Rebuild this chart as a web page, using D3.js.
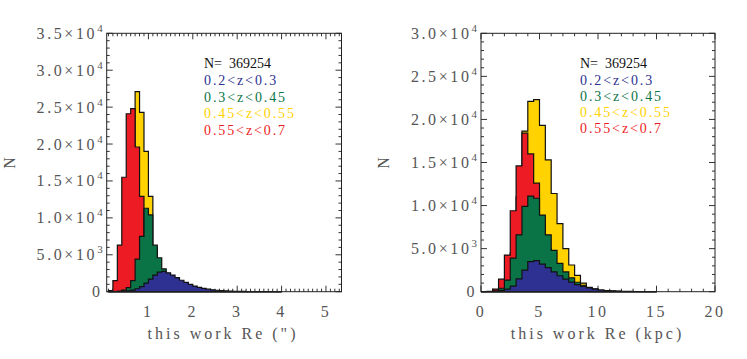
<!DOCTYPE html>
<html>
<head>
<meta charset="utf-8">
<script src="https://cdn.jsdelivr.net/npm/d3@7/dist/d3.min.js"></script>
<style>
  body { margin: 0; background: #fff; }
  svg { display: block; }
</style>
</head>
<body>
<svg id="chart" width="747" height="359"></svg>
<script>
(function () {
  'use strict';

  // ---- data ----
  // left panel: Re in arcsec, bin edges (n+1)
  const arcsecEdges = [0.1, 0.2, 0.3, 0.4, 0.5, 0.6, 0.7, 0.8, 0.9, 1.0, 1.1, 1.2, 1.3, 1.4, 1.5, 1.6, 1.7, 1.8, 1.9, 2.0,
    2.1, 2.2, 2.3, 2.4, 2.5, 2.6, 2.7, 2.8, 2.9, 3.0, 3.1, 3.2, 3.3, 3.4, 3.5, 3.6, 3.7, 3.8, 3.9, 4.0];
  const arcsecBlue = [0, 10, 30, 60, 120, 220, 400, 700, 1150, 1700, 2250, 2650, 2750, 2550, 2250, 1900, 1550, 1250, 980, 760,
    590, 450, 340, 260, 195, 145, 110, 80, 60, 45, 34, 25, 18, 13, 9, 6, 4, 3, 2];
  const arcsecGreen = [0, 30, 80, 200, 550, 1500, 4400, 7500, 11300, 10400, 6300, 4600, 3100, 2000, 1400, 900, 600, 400, 250, 160,
    100, 60, 40, 25, 15, 10, 5, 0, 0, 0, 0, 0, 0, 0, 0, 0, 0, 0, 0];
  const arcsecYellow = [0, 100, 600, 3000, 9000, 17500, 27100, 24300, 19000, 12900, 6000, 2800, 1300, 600, 300, 150, 80, 40, 20, 10,
    5, 0, 0, 0, 0, 0, 0, 0, 0, 0, 0, 0, 0, 0, 0, 0, 0, 0, 0];
  const arcsecRed = [150, 1500, 6300, 15500, 24100, 24800, 19600, 12900, 7000, 3600, 1700, 800, 400, 200, 100, 50, 30, 20, 10, 5,
    0, 0, 0, 0, 0, 0, 0, 0, 0, 0, 0, 0, 0, 0, 0, 0, 0, 0, 0];

  // right panel: Re in kpc, bin edges (n+1)
  const kpcEdges = [0.0, 0.5, 1.0, 1.5, 2.0, 2.5, 3.0, 3.5, 4.0, 4.5, 5.0, 5.5, 6.0, 6.5, 7.0, 7.5, 8.0, 8.5, 9.0, 9.5,
    10.0, 10.5, 11.0, 11.5, 12.0, 12.5, 13.0, 13.5, 14.0, 14.5, 15.0];
  const kpcBlue = [0, 10, 60, 150, 300, 650, 1500, 2500, 3500, 3600, 3200, 2800, 2300, 1850, 1450, 1120, 830, 610, 430, 300,
    200, 140, 95, 65, 45, 30, 20, 13, 8, 5];
  const kpcGreen = [0, 10, 80, 400, 1350, 3900, 6600, 9900, 11100, 10850, 8900, 6600, 4800, 3300, 2300, 1600, 1100, 750, 500, 320,
    200, 120, 70, 40, 25, 15, 8, 4, 2, 0];
  const kpcYellow = [0, 10, 100, 400, 1500, 4500, 11000, 18650, 22100, 22300, 19300, 15300, 11400, 7900, 5000, 3100, 1900, 1000, 450, 220,
    100, 50, 25, 12, 6, 3, 0, 0, 0, 0];
  const kpcRed = [0, 50, 300, 1450, 4250, 9400, 14600, 18400, 16000, 12600, 8000, 5000, 3000, 1700, 1000, 550, 300, 150, 80, 40,
    20, 10, 5, 0, 0, 0, 0, 0, 0, 0];

  const legendLabels = ['0.2<z<0.3', '0.3<z<0.45', '0.45<z<0.55', '0.55<z<0.7'];
  const legendColors = ['#2e3192', '#0b7447', '#ffd200', '#ed1c24'];
  const totalLabel = 'N=  369254';

  const leftYTicks = [0, 5000, 10000, 15000, 20000, 25000, 30000, 35000];
  const rightYTicks = [0, 5000, 10000, 15000, 20000, 25000, 30000];
  const leftXTicks = [1, 2, 3, 4, 5];
  const rightXTicks = [0, 5, 10, 15, 20];
  const leftXTitle = 'this work Re (")';
  const rightXTitle = 'this work Re (kpc)';
  const yTitle = 'N';

  const FONT = "'Liberation Serif', 'DejaVu Serif', serif";
  const GREY = '#555';

  const svg = d3.select('#chart');
  svg.append('rect').attr('width', 747).attr('height', 359).attr('fill', '#fff');

  const panels = [
    {
      box: [106.7, 341.5, 33.3, 291.7], xDomain: [0.06, 5.35], yDomain: [0, 35000],
      edges: arcsecEdges, series: [arcsecYellow, arcsecRed, arcsecGreen, arcsecBlue],
      colors: ['#ffd200', '#ed1c24', '#0b7447', '#2e3192'],
      yTicks: leftYTicks, yMinor: 1000, xTicks: leftXTicks, xMinor: 0.1,
      xTitle: leftXTitle, titleX: 223, nX: 10, legendX: 204, legendY: [67.5, 85, 101.5, 118.2, 135]
    },
    {
      box: [481, 715, 33.3, 291.7], xDomain: [0, 20], yDomain: [0, 30000],
      edges: kpcEdges, series: [kpcYellow, kpcRed, kpcGreen, kpcBlue],
      colors: ['#ffd200', '#ed1c24', '#0b7447', '#2e3192'],
      yTicks: rightYTicks, yMinor: 1000, xTicks: rightXTicks, xMinor: 1,
      xTitle: rightXTitle, titleX: 597.5, nX: 384, legendX: 580, legendY: [67.5, 84.5, 100.5, 116.8, 133.2]
    }
  ];

  // label like 2.5x10^4
  function sciParts(v) {
    if (v === 0) return null;
    const exp = Math.floor(Math.log10(v));
    return [d3.format('.1f')(v / Math.pow(10, exp)) + '\u00d710', String(exp)];
  }

  function drawPanel(p) {
    const [L, R, T, B] = p.box;
    const x = d3.scaleLinear().domain(p.xDomain).range([L, R]);
    const y = d3.scaleLinear().domain(p.yDomain).range([B, T]);
    const g = svg.append('g');

    // ticks first, the histograms cover them
    const minorY = d3.range(p.yDomain[0], p.yDomain[1] + 1, p.yMinor).filter(v => p.yTicks.indexOf(v) < 0);
    const minorX = d3.range(Math.ceil(p.xDomain[0] / p.xMinor), Math.floor(p.xDomain[1] / p.xMinor) + 1)
      .map(i => +(i * p.xMinor).toFixed(3));
    const tk = g.append('g').attr('stroke', '#333').attr('stroke-width', 1);
    minorX.forEach(v => {
      const isMaj = Math.abs(v - Math.round(v)) < 1e-6 && (p.xMinor < 1 || v % 5 === 0);
      const len = isMaj ? 6 : 3;
      tk.append('line').attr('x1', x(v)).attr('x2', x(v)).attr('y1', B).attr('y2', B - len);
      tk.append('line').attr('x1', x(v)).attr('x2', x(v)).attr('y1', T).attr('y2', T + len);
    });
    minorY.forEach(v => {
      tk.append('line').attr('x1', L).attr('x2', L + 3).attr('y1', y(v)).attr('y2', y(v));
      tk.append('line').attr('x1', R).attr('x2', R - 3).attr('y1', y(v)).attr('y2', y(v));
    });
    p.yTicks.forEach(v => {
      tk.append('line').attr('x1', L).attr('x2', L + 6).attr('y1', y(v)).attr('y2', y(v));
      tk.append('line').attr('x1', R).attr('x2', R - 6).attr('y1', y(v)).attr('y2', y(v));
    });

    // overlapping step histograms
    const area = d3.area()
      .curve(d3.curveStepAfter)
      .x(d => x(d[0]))
      .y0(y(0))
      .y1(d => y(d[1]));
    p.series.forEach((vals, k) => {
      const pts = vals.map((v, i) => [p.edges[i], v]);
      pts.push([p.edges[vals.length], 0]);
      g.append('path')
        .attr('d', area(pts))
        .attr('fill', p.colors[k])
        .attr('stroke', '#111')
        .attr('stroke-width', 1.2)
        .attr('stroke-linejoin', 'miter');
    });

    // frame
    g.append('rect').attr('x', L).attr('y', T).attr('width', R - L).attr('height', B - T)
      .attr('fill', 'none').attr('stroke', '#222').attr('stroke-width', 1);

    // y tick labels
    p.yTicks.forEach(v => {
      const t = g.append('text')
        .attr('x', L - 4).attr('y', y(v) + 5.5)
        .attr('text-anchor', 'end')
        .attr('font-family', FONT).attr('font-size', 16)
        .attr('letter-spacing', 2.6)
        .attr('fill', GREY);
      const parts = sciParts(v);
      if (!parts) { t.text('0'); return; }
      t.append('tspan').text(parts[0]);
      t.append('tspan').attr('font-size', 11).attr('dy', -7).attr('letter-spacing', 0).text(parts[1]);
    });

    // x tick labels
    p.xTicks.forEach(v => {
      g.append('text')
        .attr('x', x(v)).attr('y', 316.5)
        .attr('text-anchor', 'middle')
        .attr('font-family', FONT).attr('font-size', 16)
        .attr('letter-spacing', 2.6)
        .attr('fill', GREY)
        .text(v);
    });

    // axis titles
    g.append('text')
      .attr('x', p.titleX).attr('y', 338.5)
      .attr('text-anchor', 'middle')
      .attr('font-family', FONT).attr('font-size', 16)
      .attr('letter-spacing', 3)
      .attr('fill', GREY)
      .text(p.xTitle);
    g.append('text')
      .attr('transform', `translate(${p.nX + 5},163) rotate(-90)`)
      .attr('text-anchor', 'middle')
      .attr('font-family', FONT).attr('font-size', 16)
      .attr('fill', GREY)
      .text(yTitle);

    // legend
    g.append('text')
      .attr('x', p.legendX).attr('y', p.legendY[0])
      .attr('font-family', FONT).attr('font-size', 14)
      .attr('xml:space', 'preserve')
      .attr('fill', '#111')
      .text(totalLabel);
    legendLabels.forEach((lab, i) => {
      g.append('text')
        .attr('x', p.legendX).attr('y', p.legendY[i + 1])
        .attr('font-family', FONT).attr('font-size', 14)
        .attr('letter-spacing', 1.9)
        .attr('fill', legendColors[i])
        .text(lab);
    });
  }

  panels.forEach(drawPanel);
}());
</script>
</body>
</html>
